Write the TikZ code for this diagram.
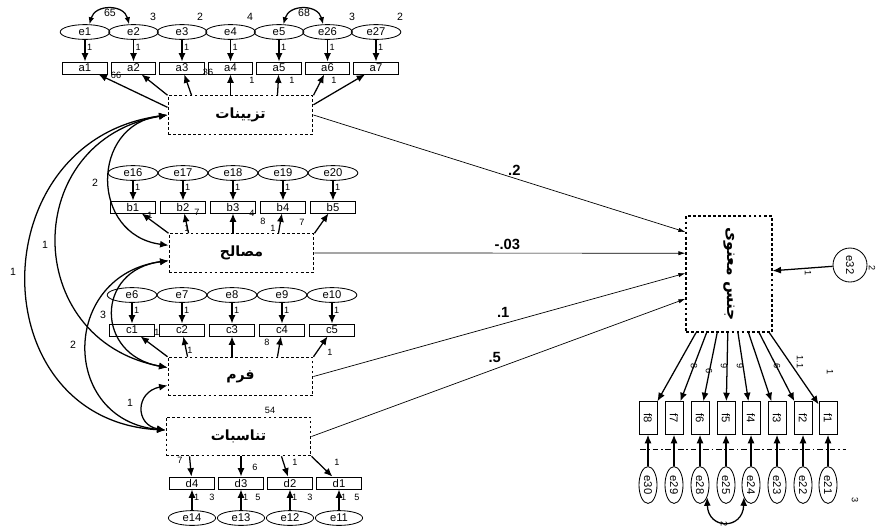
\documentclass[tikz,border=0pt]{standalone}
\usepackage{fontspec}
\setmainfont{Liberation Sans}
\newfontfamily\arabicfont[Script=Arabic]{DejaVu Sans}
\TeXXeTstate=1
\usetikzlibrary{arrows.meta,shapes.geometric}

\begin{document}
\begin{tikzpicture}[x=0.025cm,y=-0.025cm,font=\fontsize{8}{9}\selectfont,
  errnode/.style={draw,ellipse,line width=.6pt,minimum width=1.24cm,minimum height=.37cm,inner sep=0pt},
  obsbox/.style={draw,rectangle,line width=.6pt,minimum width=1.12cm,minimum height=.3cm,inner sep=0pt},
  latbox/.style={draw,dash pattern=on 2pt off 1.6pt,line width=.8pt,minimum width=3.62cm,minimum height=.96cm,inner sep=0pt,font=\arabicfont\bfseries\fontsize{10}{11}\selectfont},
  loading/.style={-{Latex[length=6pt,width=5pt]},line width=.9pt},
  regarrow/.style={-{Latex[length=5pt,width=3pt]},line width=.5pt},
  cov/.style={{Latex[length=6pt,width=5pt]}-{Latex[length=6pt,width=5pt]},line width=.9pt},
  est/.style={font=\fontsize{6.5}{7}\selectfont,inner sep=0pt},
  varlbl/.style={font=\fontsize{7.5}{8}\selectfont,inner sep=0pt},
  coeff/.style={font=\bfseries\fontsize{10.5}{11}\selectfont,inner sep=1pt}]
\path[use as bounding box,fill=white] (0,0) rectangle (880,528);

\node[latbox] (taz) at (240.5,115) {\beginR تزیینات\endR};
\node[latbox] (mas) at (241.5,253) {\beginR مصالح\endR};
\node[latbox] (form) at (240.5,376.5) {\beginR فرم\endR};
\node[latbox] (tan) at (238.5,436.5) {\beginR تناسبات\endR};
\node[latbox,minimum width=2.15cm,minimum height=2.9cm] (gen) at (729,274) {};
\node[rotate=-90,font=\arabicfont\bfseries\fontsize{11}{12}\selectfont] (genlbl) at (gen) {\beginR جنس معنوی\endR};

\foreach \n/\x/\e in {1/85/e1,2/133.5/e2,3/182/e3,4/230.5/e4,5/279/e5,6/327.5/e26,7/376/e27}{
  \node[errnode] (\e) at (\x,32) {\e};
  \node[obsbox] (a\n) at (\x,68) {a\n};
  \draw[loading] (\e) -- (a\n) node[est,pos=.35,right=1pt] (la\n) {1};
}
\draw[cov,{Latex[length=5pt,width=4pt]}-{Latex[length=5pt,width=4pt]}] (e1.60) .. controls (95,4) and (124,4) .. (e2.120);
\draw[cov,{Latex[length=5pt,width=4pt]}-{Latex[length=5pt,width=4pt]}] (e5.60) .. controls (289,4) and (318,4) .. (e26.120);
\node[varlbl] (c12) at (110,13) {65};
\node[varlbl] (c526) at (304,13) {68};
\foreach \x/\v [count=\i] in {153/3,200/2,250/4,352/3,400/2}
  \node[varlbl] (va\i) at (\x,17) {\v};
\draw[loading] (taz.174) -- (a1);
\draw[loading] (taz.north west) -- (a2);
\draw[loading] ([xshift=.6cm]taz.north west) -- (a3);
\draw[loading] (taz.north -| a4) -- (a4);
\draw[loading] ([xshift=-.9cm]taz.north east) -- (a5);
\draw[loading] (taz.north east) -- (a6);
\draw[loading] (taz.8) -- (a7);
\foreach \x/\y/\v [count=\i] in {116/75/66,208/72/36,252/80/1,292/80/1,334/80/1}
  \node[est] (ra\i) at (\x,\y) {\v};

\foreach \n/\x/\e in {1/133/e16,2/183/e17,3/233/e18,4/283/e19,5/333/e20}{
  \node[errnode] (\e) at (\x,173) {\e};
  \node[obsbox] (b\n) at (\x,207) {b\n};
  \draw[loading] (\e) -- (b\n) node[est,pos=.35,right=1pt] (lb\n) {1};
}
\draw[loading] (mas.north west) -- (b1);
\draw[loading] ([xshift=.5cm]mas.north west) -- (b2);
\draw[loading] (mas.north -| b3) -- (b3);
\draw[loading] ([xshift=-.9cm]mas.north east) -- (b4);
\draw[loading] (mas.north east) -- (b5);
\foreach \x/\y/\v [count=\i] in {150/215/1,197/212/7,187/228/1,252/213/4,263/221/8,273/228/1,302/222/7}
  \node[est] (rb\i) at (\x,\y) {\v};

\foreach \n/\x/\e in {1/132/e6,2/182/e7,3/232/e8,4/282/e9,5/332/e10}{
  \node[errnode] (\e) at (\x,295) {\e};
  \node[obsbox] (c\n) at (\x,330) {c\n};
  \draw[loading] (\e) -- (c\n) node[est,pos=.35,right=1pt] (lc\n) {1};
}
\draw[loading] (form.north west) -- (c1);
\draw[loading] ([xshift=.5cm]form.north west) -- (c2);
\draw[loading] (form.north -| c3) -- (c3);
\draw[loading] ([xshift=-.9cm]form.north east) -- (c4);
\draw[loading] (form.north east) -- (c5);
\foreach \x/\y/\v [count=\i] in {157/332/1,190/350/1,267/342/8,330/352/1}
  \node[est] (rc\i) at (\x,\y) {\v};

\foreach \n/\x/\e in {4/192/e14,3/241/e13,2/290/e12,1/339/e11}{
  \node[errnode,minimum width=1.18cm] (\e) at (\x,518) {\e};
  \node[obsbox] (d\n) at (\x,483) {d\n};
  \draw[loading] (\e) -- (d\n) node[est,pos=.6,right=1pt] (ld\n) {1};
}
\draw[loading] ([xshift=.6cm]tan.south west) -- (d4);
\draw[loading] (tan.south -| d3) -- (d3);
\draw[loading] ([xshift=-.75cm]tan.south east) -- (d2);
\draw[loading] (tan.south east) -- (d1);
\foreach \x/\y/\v [count=\i] in {180/460/7,255/467/6,295/462/1,337/462/1,212/497/3,258/497/5,310/497/3,357/497/5,270/410/54}
  \node[est] (rd\i) at (\x,\y) {\v};

\draw[cov] (taz.west) .. controls (90,125) and (90,235) .. (mas.174);
\draw[cov] (taz.west) .. controls (20,140) and (20,340) .. (form.173);
\draw[cov] (taz.west) .. controls (-20,140) and (-20,420) .. (tan.175);
\draw[cov] (mas.186) .. controls (95,270) and (95,355) .. (form.173);
\draw[cov] (mas.186) .. controls (60,275) and (60,420) .. (tan.175);
\draw[cov] (form.187) .. controls (135,392) and (135,425) .. (tan.175);
\foreach \x/\y/\v [count=\i] in {95/183/2,45/245/1,13/272/1,103/315/3,73/345/2,130/403/1}
  \node[varlbl] (cv\i) at (\x,\y) {\v};

\draw[regarrow] (taz.east) -- ([yshift=1.05cm]gen.west) node[coeff,pos=.54,above=1pt] (p1) {.2};
\draw[regarrow] (mas.east) -- ([yshift=.52cm]gen.west) node[coeff,pos=.52,above=1pt] (p2) {-.03};
\draw[regarrow] (form.east) -- ([yshift=.02cm]gen.west) node[coeff,pos=.51,above=3pt] (p3) {.1};
\draw[regarrow] (tan.east) -- ([yshift=-.62cm]gen.west) node[coeff,pos=.49,above=3pt] (p4) {.5};

\node[draw,circle,line width=.6pt,minimum size=.85cm,inner sep=0pt,rotate=-90] (e32) at (850,265) {e32};
\draw[loading] (e32) -- (gen);
\foreach \n/\x/\e in {8/648/e30,7/674/e29,6/700/e28,5/726/e25,4/751/e24,3/777/e23,2/803/e22,1/828/e21}{
  \node[obsbox,rotate=-90,minimum width=.82cm,minimum height=.45cm] (f\n) at (\x,418) {f\n};
  \node[errnode,rotate=-90,minimum width=.92cm,minimum height=.45cm] (\e) at (\x,485) {\e};
  \draw[loading] (gen) -- (f\n);
  \draw[loading] (\e) -- (f\n);
}
\draw[line width=.5pt,dash pattern=on 4pt off 2pt on 1pt off 2pt] ([shift={(-.2cm,-.775cm)}]f8.center) -- ([shift={(.45cm,-.775cm)}]f1.center);
\draw[cov] (e28.30) .. controls (708,530) and (743,530) .. (e24.-30);
\foreach \x/\y/\v [count=\i] in {694/366/8,709/371/6,724/366/9,740/366/9,777/366/6,800/362/1.1,830/372/1,808/273/1,872/268/2,855/500/3,724/524/2}
  \node[est,rotate=-90] (rf\i) at (\x,\y) {\v};
\end{tikzpicture}
\end{document}
